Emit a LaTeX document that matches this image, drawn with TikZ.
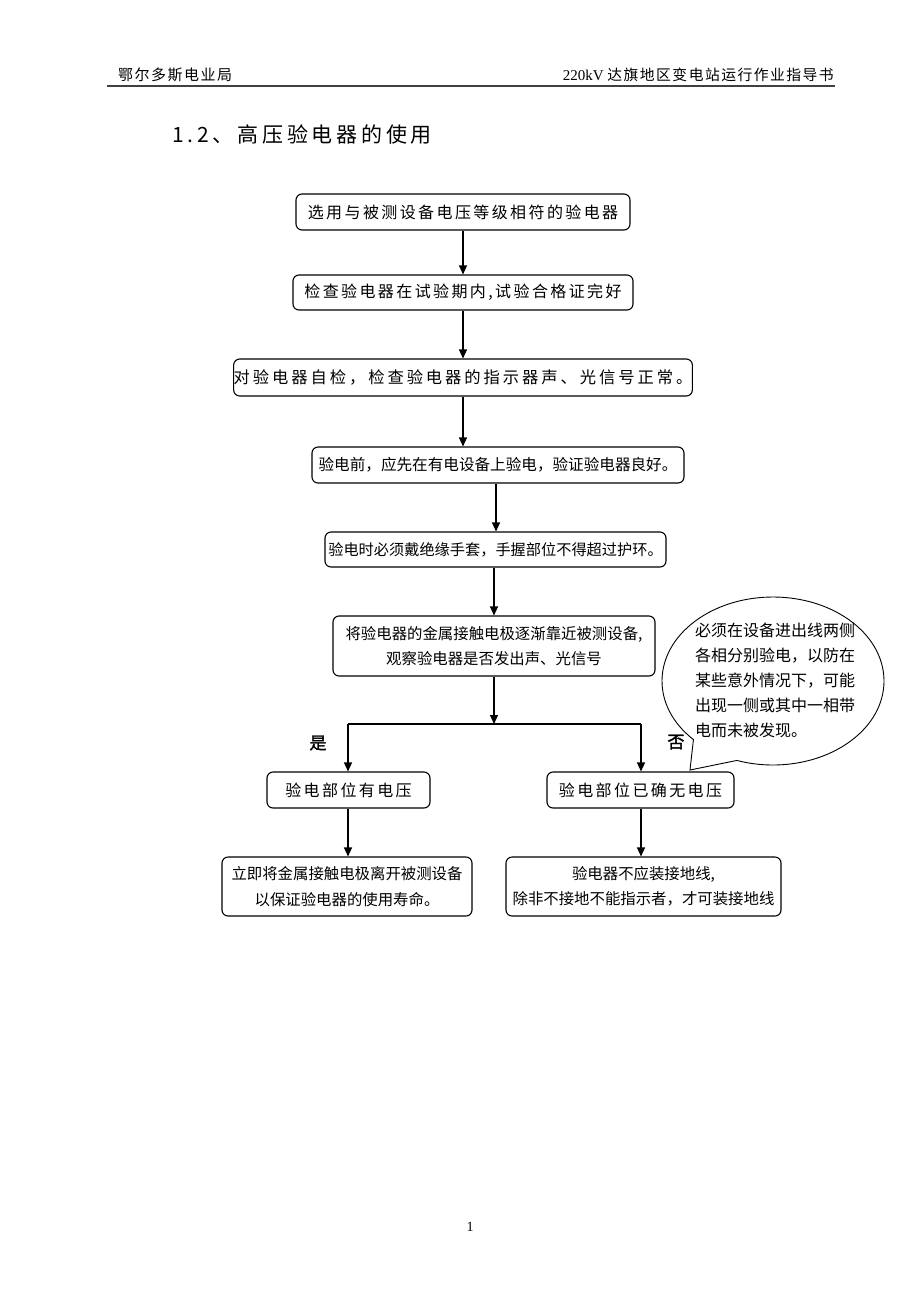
\documentclass[tikz,border=0pt]{standalone}
\usepackage{fontspec}
\usetikzlibrary{arrows.meta}
\newfontfamily\cjk{Noto Sans CJK SC}
\newfontfamily\cjksp[LetterSpace=15]{Noto Sans CJK SC}
\newfontfamily\cjkspw[LetterSpace=18]{Noto Sans CJK SC}
\newfontfamily\cjkti[LetterSpace=18]{Noto Sans CJK SC}
\newfontfamily\cjkhd[LetterSpace=10]{Noto Sans CJK SC}
\newfontfamily\cjkbd[FakeBold=2]{Noto Sans CJK SC}
\newfontfamily\latser{Liberation Serif}
\tikzset{
  box/.style={draw=black, rounded corners=6pt, line width=1.1pt, inner sep=0pt, align=center},
  arr/.style={-{Triangle[length=9pt,width=8pt]}, line width=1.2pt},
  ln/.style={line width=1.2pt},
  wide/.style={font=\cjksp\fontsize{16}{20}\selectfont},
  wider/.style={font=\cjkspw\fontsize{16.3}{20}\selectfont},
  narrow/.style={font=\cjk\fontsize{15.4}{25.5}\selectfont},
}
\begin{document}
\begin{tikzpicture}[x=1pt,y=-1pt]
\useasboundingbox (0,0) rectangle (920,1302);
\fill[white] (0,0) rectangle (920,1302);

% header
\node[anchor=west, font=\cjkhd\fontsize{15}{16}\selectfont, inner sep=0pt] (hl) at (118,75) {鄂尔多斯电业局};
\node[anchor=east, inner sep=0pt] (hr) at (834,75) {{\latser\fontsize{15}{16}\selectfont 220kV }{\cjkhd\fontsize{14.8}{16}\selectfont 达旗地区变电站运行作业指导书}};
\coordinate (hla) at (107,86);
\coordinate (hlb) at (835,86);
\draw[line width=1.3pt, black!75] (hla) -- (hlb);

% title
\node[anchor=west, font=\cjkti\fontsize{21}{24}\selectfont, inner sep=0pt] (title) at (172,134) {1.2、高压验电器的使用};

% boxes
\node[box, wide, minimum width=334pt, minimum height=36pt] (b1) at (463,212) {选用与被测设备电压等级相符的验电器};
\node[box, wide, minimum width=340pt, minimum height=35pt] (b2) at (463,292.5) {检查验电器在试验期内,试验合格证完好};
\node[box, wider, minimum width=449pt, minimum height=37pt] (b3) at (463,377.5) {对验电器自检，检查验电器的指示器声、光信号正常。};
\node[box, narrow, font=\cjk\fontsize{15.6}{20}\selectfont, minimum width=372pt, minimum height=36pt] (b4) at (498,465) {验电前，应先在有电设备上验电，验证验电器良好。};
\node[box, narrow, font=\cjk\fontsize{15.2}{20}\selectfont, minimum width=341pt, minimum height=35pt] (b5) at (495.5,549.5) {验电时必须戴绝缘手套，手握部位不得超过护环。};
\node[box, narrow, minimum width=322pt, minimum height=60pt] (b6) at (494,646) {将验电器的金属接触电极逐渐靠近被测设备,\\观察验电器是否发出声、光信号};
\node[box, wide, minimum width=163pt, minimum height=36pt] (b7) at (348.5,790) {验电部位有电压};
\node[box, wide, minimum width=187pt, minimum height=36pt] (b8) at (640.5,790) {验电部位已确无电压};
\node[box, narrow, minimum width=250pt, minimum height=59pt] (b9) at (347,886.5) {立即将金属接触电极离开被测设备\\以保证验电器的使用寿命。};
\node[box, narrow, minimum width=275pt, minimum height=59pt] (b10) at (643.5,886.5) {验电器不应装接地线,\\除非不接地不能指示者，才可装接地线};

% connectors
\draw[arr] (b1.south) -- (b1.south |- b2.north);
\draw[arr] (b2.south) -- (b2.south |- b3.north);
\draw[arr] (b3.south) -- (b3.south |- b4.north);
\draw[arr] ([xshift=-2pt]b4.south) -- ([xshift=-2pt]b4.south |- b5.north);
\draw[arr] ([xshift=-1.5pt]b5.south) -- ([xshift=-1.5pt]b5.south |- b6.north);
\coordinate (split) at (494,724);
\coordinate (sl) at (348,724);
\coordinate (sr) at (641,724);
\draw[arr] (b6.south) -- (split);
\draw[ln] (sl) -- (sr);
\draw[arr] (sl) -- (sl |- b7.north);
\draw[arr] (sr) -- (sr |- b8.north);
\draw[arr] (b7.south -| sl) -- (sl |- b9.north);
\draw[arr] (b8.south -| sr) -- (sr |- b10.north);

% branch labels
\node[font=\cjkbd\fontsize{17}{20}\selectfont, inner sep=0pt] (yes) at (318,743) {是};
\node[font=\cjkbd\fontsize{17}{20}\selectfont, inner sep=0pt] (no) at (676,742) {否};

% callout
\coordinate (cc) at (773,681);
\coordinate (tip) at (690,770);
\draw[line width=0.9pt] (tip) -- ([shift={(135.8:111 and 84)}]cc) arc[start angle=135.8, end angle=469, x radius=111, y radius=84] -- cycle;
\node[align=left, font=\cjk\fontsize{16}{25}\selectfont, inner sep=0pt] (ctext) at (775,680) {必须在设备进出线两侧\\各相分别验电，以防在\\某些意外情况下，可能\\出现一侧或其中一相带\\电而未被发现。};

% page number
\node[font=\latser\fontsize{14}{16}\selectfont, inner sep=0pt] (pg) at (470,1227) {1};
\end{tikzpicture}
\end{document}
